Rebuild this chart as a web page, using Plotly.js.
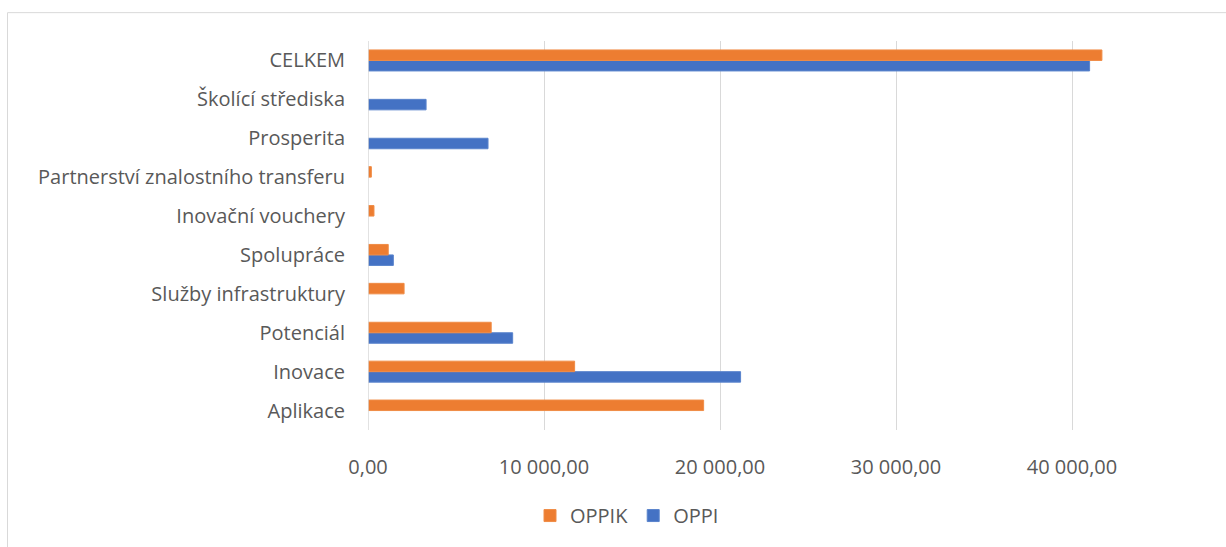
<!DOCTYPE html>
<html>
<head>
<meta charset="utf-8">
<script src="https://cdn.plot.ly/plotly-3.0.1.min.js"></script>
<style>html,body{margin:0;padding:0;background:#fff;}#chart{width:1226px;height:547px;}</style>
</head>
<body>
<div id="chart"></div>
<script>
// categories listed bottom to top
const categories = ["Aplikace", "Inovace", "Potenciál", "Služby infrastruktury", "Spolupráce",
  "Inovační vouchery", "Partnerství znalostního transferu", "Prosperita", "Školící střediska", "CELKEM"];
const oppik = [19070, 11740, 7000, 2050, 1150, 340, 190, null, null, 41700];
const oppi  = [null, 21170, 8220, null, 1440, null, null, 6820, 3300, 41000];
const xTicks = [0, 10000, 20000, 30000, 40000];

const W = 1226, H = 547;
const L = 368, R = 1160, T = 41, B = 432;
const px2x = p => (p - L) / (R - L);
const px2y = p => (B - p) / (B - T);

const font = {family: "'Open Sans', Lato, sans-serif", size: 20, color: "#595959"};

const traces = [
  {type: "bar", orientation: "h", name: "OPPI", y: categories, x: oppi,
   marker: {color: "#4472C4", line: {color: "#5a84cc", width: 1}}},
  {type: "bar", orientation: "h", name: "OPPIK", y: categories, x: oppik,
   marker: {color: "#ED7D31", line: {color: "#f08c46", width: 1}}}
];

const layout = {
  width: W, height: H,
  margin: {l: L, r: W - R, t: T, b: H - B, pad: 0},
  paper_bgcolor: "#fff", plot_bgcolor: "#fff",
  font: font,
  separators: ", ",
  barmode: "group",
  bargap: 0.46, bargroupgap: 0,
  showlegend: true,
  legend: {orientation: "h", traceorder: "reversed", x: px2x(627), xanchor: "center",
           y: px2y(518), yanchor: "middle", font: font, itemwidth: 30},
  xaxis: {range: [0, 45000], tickvals: xTicks, tickformat: ",.2f",
          showgrid: true, gridcolor: "#d9d9d9", gridwidth: 1,
          zeroline: false, showline: false,
          ticks: "outside", ticklen: 19, tickcolor: "rgba(0,0,0,0)",
          tickfont: font, fixedrange: true},
  yaxis: {type: "category", showgrid: false, zeroline: false,
          showline: false,
          ticks: "outside", ticklen: 18, tickcolor: "rgba(0,0,0,0)",
          tickfont: font, fixedrange: true},
  shapes: [
    {type: "line", xref: "x", yref: "paper", x0: 0, x1: 0, y0: 0, y1: 1,
     line: {color: "#d9d9d9", width: 1.5}},
    {type: "rect", xref: "paper", yref: "paper",
     x0: px2x(7.5), x1: px2x(1240), y0: px2y(560), y1: px2y(12.5),
     line: {color: "#d9d9d9", width: 1}, fillcolor: "rgba(0,0,0,0)", layer: "below"}
  ]
};

Plotly.newPlot("chart", traces, layout, {displayModeBar: false, staticPlot: true});
</script>
</body>
</html>
